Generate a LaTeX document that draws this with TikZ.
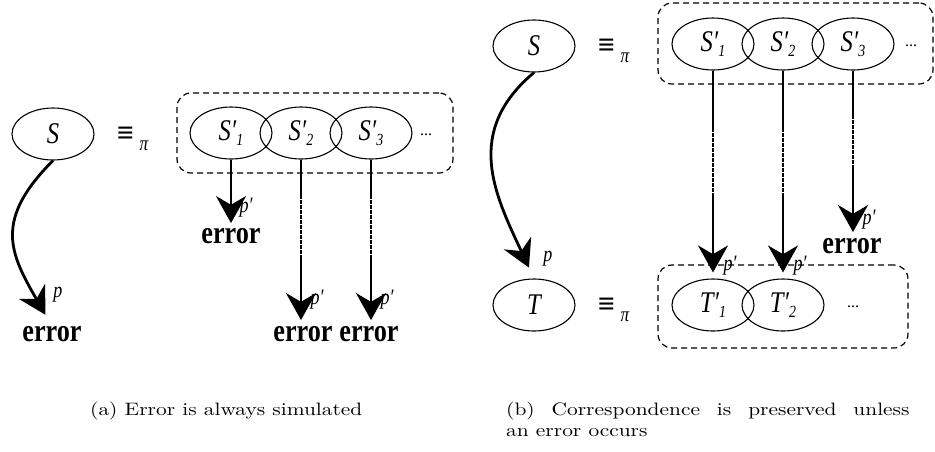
\documentclass[tikz,border=0pt]{standalone}
\usepackage{graphicx}
\usepackage{fontspec}
\usepackage{tikz}
\usetikzlibrary{positioning,shapes,fit}
\usetikzlibrary{calc}
\usetikzlibrary{arrows.meta}

\newfontfamily\tnr{Liberation Serif}
\newfontfamily\djv{DejaVu Serif}
\newfontfamily\capfont{lmroman10-regular.otf}
\newcommand{\nar}[1]{\scalebox{0.82}[1]{#1}}
\newcommand{\wid}[1]{\scalebox{1.19}[1]{#1}}
\newcommand{\prm}[2]{\nar{#1′\raisebox{-5pt}{\fontsize{17}{17}\selectfont #2}}}
\newcommand{\eqpi}{\nar{{\djv\fontsize{27}{27}\selectfont ≡}\hspace{6pt}\raisebox{-9pt}{\fontsize{21}{21}\selectfont\itshape π}}}

\begin{document}
\begin{tikzpicture}[x=1pt,y=-1pt]
		\tikzset{
			state/.style={draw,ellipse,line width=1.1pt,minimum width=82pt,minimum height=52pt,inner sep=0pt,font=\tnr\fontsize{30}{30}\selectfont\itshape},
			grp/.style={draw,dash pattern=on 6pt off 4pt,line width=1.2pt,rounded corners=14pt,inner sep=0pt},
			conn/.style={line width=2.8pt},
			arr/.style={conn,-{Stealth[length=27pt,width=30pt]}},
			brk/.style={conn,dash pattern=on 3.5pt off 1.5pt},
			errlab/.style={inner sep=0pt,font=\tnr\fontsize{32}{32}\selectfont\bfseries},
			plab/.style={inner sep=0pt,font=\tnr\fontsize{22}{22}\selectfont\itshape},
			eqv/.style={inner sep=0pt,anchor=base west,font=\tnr},
			more/.style={inner sep=0pt,font=\tnr\fontsize{16}{16}\selectfont},
			capt/.style={inner sep=0pt,anchor=base west,font=\capfont\fontsize{18}{21}\selectfont},
		}
		\useasboundingbox (0,0) rectangle (935,451);

		% (a) error is always simulated
		\node[state] (sa) at (53,134) {\nar{S}};
		\node[eqv] (eqa) at (116,141) {\eqpi};
		\foreach \i/\x in {1/231,2/301,3/371}{
				\node[state] (sa\i) at (\x,133) {\prm{S}{\i}};
			}
		\node[more] (dotsa) at (426,135) {...};
		\node[grp,fit={(177,93) (453,173)}] (boxa) {};

		\node[errlab] (erra0) at (52,334) {\nar{error}};
		\node[errlab] (erra1) at (231,236) {\nar{error}};
		\node[errlab] (erra2) at (303,334) {\nar{error}};
		\node[errlab] (erra3) at (369,334) {\nar{error}};

		\draw[arr,shorten >=13pt] (sa.south) to[out=225,in=120,looseness=1.3] (erra0.north);
		\node[plab] (pa0) at (58,295) {\nar{p}};

		\draw[arr,shorten >=5pt] (sa1.south) -- (erra1.north);
		\node[plab] (pa1) at (246,208) {\nar{p′}};

		\coordinate (ca2) at (301,195);
		\coordinate (cb2) at (301,255);
		\coordinate (ca3) at (371,195);
		\coordinate (cb3) at (371,255);
		\foreach \i in {2,3}{
				\draw[conn] (sa\i.south) -- (ca\i);
				\draw[brk] (ca\i) -- (cb\i);
				\draw[arr,shorten >=6pt] (cb\i) -- (cb\i |- erra\i.north);
			}
		\node[plab] (pa2) at (317,300) {\nar{p′}};
		\node[plab] (pa3) at (387,300) {\nar{p′}};

		% (b) correspondence is preserved
		\node[state] (sb) at (534,46) {\nar{S}};
		\node[eqv] (eqb) at (597,53) {\eqpi};
		\foreach \i/\x in {1/713,2/783,3/853}{
				\node[state] (sb\i) at (\x,44) {\prm{S}{\i}};
			}
		\node[more] (dotsb) at (911,46) {...};
		\node[grp,fit={(658,3) (933,84)}] (boxb) {};

		\node[state] (tb) at (534,305) {\nar{T}};
		\node[eqv] (eqt) at (597,312) {\eqpi};
		\foreach \i/\x in {1/713,2/783}{
				\node[state] (tb\i) at (\x,305) {\prm{T}{\i}};
			}
		\node[more] (dotst) at (853,307) {...};
		\node[grp,fit={(658,265) (908,348)}] (boxt) {};

		\draw[arr,shorten >=12pt] (sb.south) to[out=220,in=115,looseness=1.15] (tb.north);
		\node[plab] (pb0) at (548,259) {\nar{p}};

		\coordinate (db1) at (713,128);
		\coordinate (eb1) at (713,193);
		\coordinate (db2) at (783,128);
		\coordinate (eb2) at (783,193);
		\foreach \i in {1,2}{
				\draw[conn] (sb\i.south) -- (db\i);
				\draw[brk] (db\i) -- (eb\i);
				\draw[arr,shorten >=6pt] (eb\i) -- (tb\i.north);
			}
		\node[plab] (pb1) at (730,266) {\nar{p′}};
		\node[plab] (pb2) at (800,266) {\nar{p′}};

		\node[errlab] (errb3) at (852,246) {\nar{error}};
		\coordinate (db3) at (853,115);
		\coordinate (eb3) at (853,167);
		\draw[conn] (sb3.south) -- (db3);
		\draw[brk] (db3) -- (eb3);
		\draw[arr,shorten >=6pt] (eb3) -- (eb3 |- errb3.north);
		\node[plab] (pb3) at (869,220) {\nar{p′}};

		% captions
		\node[capt] (capa) at (90,415) {\wid{(a) Error is always simulated}};
		\node[capt] (capb) at (506,415) {\wid{\makebox[339pt][s]{(b) Correspondence is preserved unless}}};
		\node[capt] (capc) at (506,436) {\wid{an error occurs}};
	\end{tikzpicture}
\end{document}
